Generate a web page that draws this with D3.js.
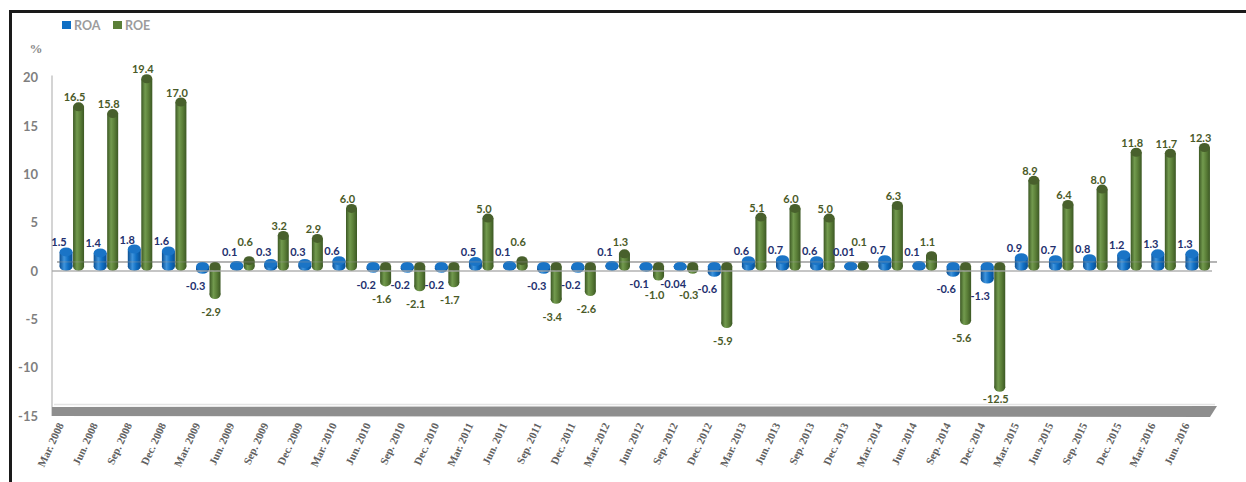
<!DOCTYPE html>
<html>
<head>
<meta charset="utf-8">
<script src="https://cdn.jsdelivr.net/npm/d3@7/dist/d3.min.js"></script>
<style>
  html, body { margin: 0; padding: 0; background: #fff; }
  svg { display: block; }
</style>
</head>
<body>
<svg id="chart" width="1246" height="482"></svg>
<script>
// Quarterly return on assets / return on equity, percent
const quarters = [
  "Mar. 2008", "Jun. 2008", "Sep. 2008", "Dec. 2008",
  "Mar. 2009", "Jun. 2009", "Sep. 2009", "Dec. 2009",
  "Mar. 2010", "Jun. 2010", "Sep. 2010", "Dec. 2010",
  "Mar. 2011", "Jun. 2011", "Sep. 2011", "Dec. 2011",
  "Mar. 2012", "Jun. 2012", "Sep. 2012", "Dec. 2012",
  "Mar. 2013", "Jun. 2013", "Sep. 2013", "Dec. 2013",
  "Mar. 2014", "Jun. 2014", "Sep. 2014", "Dec. 2014",
  "Mar. 2015", "Jun. 2015", "Sep. 2015", "Dec. 2015",
  "Mar. 2016", "Jun. 2016"
];
const roa = [
  1.5, 1.4, 1.8, 1.6,
  -0.3, 0.1, 0.3, 0.3,
  0.6, -0.2, -0.2, -0.2,
  0.5, 0.1, -0.3, -0.2,
  0.1, -0.1, -0.04, -0.6,
  0.6, 0.7, 0.6, 0.01,
  0.7, 0.1, -0.6, -1.3,
  0.9, 0.7, 0.8, 1.2,
  1.3, 1.3
];
const roe = [
  16.5, 15.8, 19.4, 17.0,
  -2.9, 0.6, 3.2, 2.9,
  6.0, -1.6, -2.1, -1.7,
  5.0, 0.6, -3.4, -2.6,
  1.3, -1.0, -0.3, -5.9,
  5.1, 6.0, 5.0, 0.1,
  6.3, 1.1, -5.6, -12.5,
  8.9, 6.4, 8.0, 11.8,
  11.7, 12.3
];
const roaLabels = [
  "1.5", "1.4", "1.8", "1.6", "-0.3", "0.1", "0.3", "0.3", "0.6", "-0.2", "-0.2", "-0.2",
  "0.5", "0.1", "-0.3", "-0.2", "0.1", "-0.1", "-0.04", "-0.6", "0.6", "0.7", "0.6", "0.01",
  "0.7", "0.1", "-0.6", "-1.3", "0.9", "0.7", "0.8", "1.2", "1.3", "1.3"
];
const yTicks = [20, 15, 10, 5, 0, -5, -10, -15];
const seriesNames = ["ROA", "ROE"];

const svg = d3.select("#chart");

// front plane of the 3-D box; the back plane sits DEPTH_Y px higher, DEPTH_X px to the right
const y = d3.scaleLinear().domain([-15, 20]).range([416, 77.5]);
const x = d3.scaleBand().domain(quarters).range([55, 1215]).paddingInner(0);
const DEPTH_Y = 9, DEPTH_X = 5;
const RY = 4.5; // vertical radius of the cylinder caps

const colors = {
  ROA: { light: "#3f94dc", mid: "#0f6fc4", dark: "#0a4f93", cap: "#1a74c6", label: "#23306e" },
  ROE: { light: "#729a4e", mid: "#5b7f38", dark: "#3c5824", cap: "#48602c", label: "#4a5a28" }
};

const defs = svg.append("defs");
for (const name of seriesNames) {
  const g = defs.append("linearGradient").attr("id", "grad-" + name)
    .attr("x1", "0").attr("x2", "1").attr("y1", "0").attr("y2", "0");
  g.append("stop").attr("offset", "0%").attr("stop-color", colors[name].dark);
  g.append("stop").attr("offset", "35%").attr("stop-color", colors[name].light);
  g.append("stop").attr("offset", "65%").attr("stop-color", colors[name].mid);
  g.append("stop").attr("offset", "100%").attr("stop-color", colors[name].dark);
}

// outer frame
svg.append("path")
  .attr("d", "M10.5,482 L10.5,11.5 L1246,11.5")
  .attr("fill", "none").attr("stroke", "#1a1a1a").attr("stroke-width", 3);

// legend
const legend = svg.append("g").attr("transform", "translate(62,21)");
seriesNames.forEach((name, i) => {
  const g = legend.append("g").attr("transform", `translate(${i * 51},0)`);
  g.append("rect").attr("width", 9).attr("height", 8).attr("fill", colors[name].mid);
  g.append("text").attr("x", 12).attr("y", 8.5)
    .attr("font-family", "Lato, sans-serif").attr("font-weight", "bold")
    .attr("font-size", 12.5).attr("fill", "#9c9c9c").text(name);
});

// unit
svg.append("text").attr("x", 36).attr("y", 53).attr("text-anchor", "middle")
  .attr("font-family", "'Liberation Serif', serif").attr("font-weight", "bold")
  .attr("font-size", 13).attr("fill", "#8a8a8a").text("%");

// y axis labels
svg.append("g").selectAll("text").data(yTicks).join("text")
  .attr("x", 38).attr("y", d => y(d)).attr("dy", "0.36em")
  .attr("text-anchor", "end")
  .attr("font-family", "Lato, sans-serif").attr("font-weight", "bold")
  .attr("font-size", 13).attr("fill", "#7f7f7f")
  .text(d => d);

// walls: vertical axis edge and floor
const floorBack = y(-15) - DEPTH_Y, floorFront = y(-15);
svg.append("line").attr("x1", 52).attr("x2", 52).attr("y1", y(20) - 2).attr("y2", floorFront)
  .attr("stroke", "#d4d4d4").attr("stroke-width", 2);
svg.append("line").attr("x1", 54).attr("x2", 1215).attr("y1", floorBack - 2.5).attr("y2", floorBack - 2.5)
  .attr("stroke", "#e4e4e4").attr("stroke-width", 1.5);
svg.append("path")
  .attr("d", `M52,${floorBack} L${x.range()[1] + 2},${floorBack - 1} L${x.range()[1] - 5},${floorFront + 1} L52,${floorFront} Z`)
  .attr("fill", "#8e8e8e");

// zero plane, back edge
const zeroBack = y(0) - DEPTH_Y, zeroFront = y(0);
svg.append("line").attr("x1", 52 + DEPTH_X).attr("x2", x.range()[1] + 2)
  .attr("y1", zeroBack).attr("y2", zeroBack)
  .attr("stroke", "#a6a6a6").attr("stroke-width", 1.5);

// cylinders
const yc = v => y(v) - RY; // centre line of a cylinder cap at value v
const series = [
  { name: "ROA", values: roa, offset: -6, w: 13 },
  { name: "ROE", values: roe, offset: 6.5, w: 11 }
];
const bars = svg.append("g");
for (const s of series) {
  const g = bars.append("g");
  const data = s.values.map((v, i) => ({ v, i, cx: x(quarters[i]) + x.bandwidth() / 2 + s.offset }));
  g.selectAll("rect").data(data).join("rect")
    .attr("x", d => d.cx - s.w / 2)
    .attr("y", d => Math.min(yc(d.v), yc(0)))
    .attr("width", s.w)
    .attr("height", d => Math.abs(yc(d.v) - yc(0)))
    .attr("fill", `url(#grad-${s.name})`);
  // bottom cap
  g.selectAll("ellipse.bottom").data(data).join("ellipse").attr("class", "bottom")
    .attr("cx", d => d.cx).attr("cy", d => Math.max(yc(d.v), yc(0)))
    .attr("rx", s.w / 2).attr("ry", RY)
    .attr("fill", `url(#grad-${s.name})`);
  // top cap
  g.selectAll("ellipse.top").data(data).join("ellipse").attr("class", "top")
    .attr("cx", d => d.cx).attr("cy", d => Math.min(yc(d.v), yc(0)))
    .attr("rx", s.w / 2).attr("ry", RY)
    .attr("fill", colors[s.name].cap);
}

// zero plane, front edge (drawn over the feet of the cylinders)
svg.append("line").attr("x1", 52).attr("x2", x.range()[1] - 3)
  .attr("y1", zeroFront).attr("y2", zeroFront)
  .attr("stroke", "#a6a6a6").attr("stroke-width", 1.5).attr("opacity", 0.85);
svg.append("line").attr("x1", 52 + DEPTH_X).attr("x2", x.range()[1] + 2)
  .attr("y1", zeroBack).attr("y2", zeroBack)
  .attr("stroke", "#9a9a9a").attr("stroke-width", 1).attr("opacity", 0.45);

// value labels
const labelFont = g => g.attr("font-family", "Lato, sans-serif").attr("font-weight", "bold")
  .attr("font-size", 11).attr("text-anchor", "middle");

svg.append("g").call(labelFont).attr("fill", colors.ROA.label)
  .selectAll("text").data(roa).join("text")
  .attr("x", (v, i) => x(quarters[i]) + x.bandwidth() / 2 - 6 - 7)
  .attr("y", v => v >= 0
    ? Math.min(yc(v) - RY - 1, 256)
    : Math.max(yc(v) + RY + 16, 288))
  .text((v, i) => roaLabels[i]);

svg.append("g").call(labelFont).attr("fill", colors.ROE.label)
  .selectAll("text").data(roe).join("text")
  .attr("x", (v, i) => x(quarters[i]) + x.bandwidth() / 2 + 6.5 - 4)
  .attr("y", v => v >= 0
    ? Math.min(yc(v) - RY - 1, yc(0) - 20)
    : Math.min(Math.max(yc(v) + RY + 17, 299), floorBack - 4))
  .text(v => v.toFixed(1));

// category labels
svg.append("g").selectAll("text").data(quarters).join("text")
  .attr("transform", d => `translate(${x(d) + x.bandwidth() / 2 - 8},${425}) rotate(-65)`)
  .attr("text-anchor", "end")
  .attr("font-family", "'Liberation Serif', serif").attr("font-weight", "bold")
  .attr("font-size", 11).attr("fill", "#606060")
  .text(d => d);
</script>
</body>
</html>
